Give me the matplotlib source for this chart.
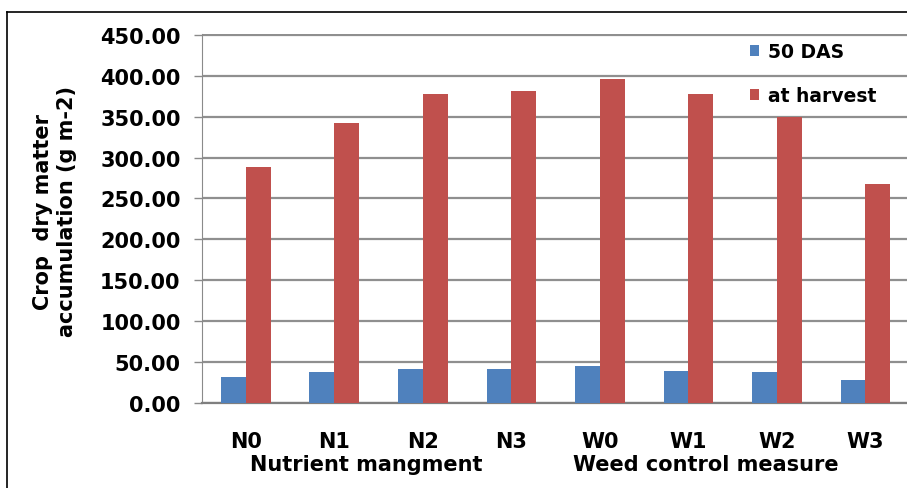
import numpy as np
import matplotlib.pyplot as plt
from matplotlib.lines import Line2D

plt.rcParams['font.family'] = ['DejaVu Sans']
plt.rcParams['font.weight'] = 'bold'

# Treatments and dry matter (g m-2)
treatments = ['N0', 'N1', 'N2', 'N3', 'W0', 'W1', 'W2', 'W3']
das_50 = [31.5, 37.5, 41.5, 41.5, 45.0, 39.5, 37.5, 28.0]
at_harvest = [288.5, 342, 377.5, 381, 396.5, 377.5, 349, 268]
yticks = np.arange(0, 451, 50)

blue = '#4F81BD'
red = '#C0504D'

W, H = 907, 489
fig = plt.figure(figsize=(W / 100, H / 100), dpi=100)
ax = fig.add_axes([201.5 / W, 1 - 404 / H, 1 - 201.5 / W, (404 - 35) / H])

x = np.arange(len(treatments))
w = 0.28
ax.bar(x - w / 2, das_50, width=w, color=blue, label='50 DAS', zorder=3)
ax.bar(x + w / 2, at_harvest, width=w, color=red, label='at harvest', zorder=3)

ax.set_ylim(0, 451)
ax.set_xlim(-0.5, 7.47)
ax.set_yticks(yticks)
ax.set_yticklabels([f'{v:.2f}' for v in yticks], fontsize=15, fontweight='bold')
ax.set_xticks(x)
ax.set_xticklabels(treatments, fontsize=15, fontweight='bold')
ax.tick_params(axis='x', length=0, pad=20)
ax.tick_params(axis='y', length=6, width=1, color='#8a8a8a', pad=9)

ax.yaxis.grid(True, color='#8f8f8f', linewidth=1.6, zorder=0)
ax.set_axisbelow(True)
for s in ['top', 'right']:
    ax.spines[s].set_visible(False)
ax.spines['left'].set_color('#8a8a8a')
ax.spines['bottom'].set_color('#7f7f7f')
ax.spines['bottom'].set_linewidth(1.6)

# Group names under the treatment labels
ax.text(1.36, -0.1655, 'Nutrient mangment', transform=ax.get_xaxis_transform(),
        ha='center', va='center', fontsize=15, fontweight='bold')
ax.text(5.2, -0.1655, 'Weed control measure', transform=ax.get_xaxis_transform(),
        ha='center', va='center', fontsize=15, fontweight='bold')

fig.text(55 / W, 1 - 212 / H, 'Crop  dry matter\naccumulation (g m-2)', rotation=90,
         ha='center', va='center', fontsize=15, fontweight='bold', linespacing=1.3)

ax.legend(loc='upper left', bbox_to_anchor=(0.777, 0.977), frameon=False,
          fontsize=13.5, handlelength=0.5, handleheight=0.5, borderpad=0,
          borderaxespad=0, handletextpad=0.5, labelspacing=1.3)

# Outer frame
fig.add_artist(Line2D([7 / W, 7 / W], [0, 1 - 13 / H], color='black', linewidth=1.2))
fig.add_artist(Line2D([7 / W, 1], [1 - 13 / H, 1 - 13 / H], color='black', linewidth=1.2))

fig.savefig('out.png', dpi=100)
